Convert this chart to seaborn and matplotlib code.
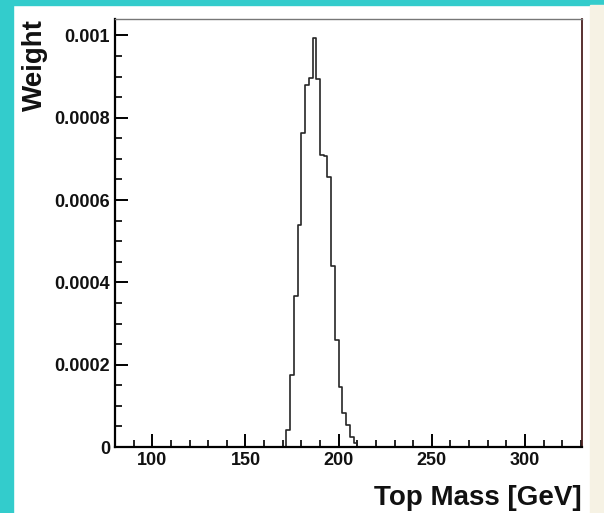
import numpy as np
import pandas as pd
import matplotlib
matplotlib.use("Agg")
import matplotlib.pyplot as plt
from matplotlib.patches import Rectangle
from matplotlib.ticker import FixedLocator, MultipleLocator
import seaborn as sns

# ---- data ----
bin_centers = [173, 175, 177, 179, 181, 183, 185, 187, 189, 191,
               193, 195, 197, 199, 201, 203, 205, 207, 209]
bin_weights = [0.000042, 0.000176, 0.000368, 0.000540, 0.000763, 0.000879,
               0.000897, 0.000994, 0.000893, 0.000710, 0.000708, 0.000655,
               0.000440, 0.000259, 0.000147, 0.000082, 0.000054, 0.000025,
               0.000010]
x_ticks = [100, 150, 200, 250, 300]
x_tick_labels = ["100", "150", "200", "250", "300"]
y_ticks = [0, 0.0002, 0.0004, 0.0006, 0.0008, 0.001]
y_tick_labels = ["0", "0.0002", "0.0004", "0.0006", "0.0008", "0.001"]
x_label = "Top Mass [GeV]"
y_label = "Weight"

df = pd.DataFrame({"mass": bin_centers, "weight": bin_weights})
edges = [float(e) for e in np.arange(80, 332, 2)]

sns.set_style("white")
plt.rcParams["font.family"] = ["Liberation Sans", "DejaVu Sans"]

W, H = 604, 513
fig = plt.figure(figsize=(W / 100, H / 100), dpi=100)
fig.patch.set_facecolor("white")

# frame decorations of the screenshot
fig.patches.append(Rectangle((0, 0), 13 / W, 1, transform=fig.transFigure,
                             color="#33CCCC", zorder=-10))
fig.patches.append(Rectangle((0, 1 - 5 / H), 1, 5 / H, transform=fig.transFigure,
                             color="#33CCCC", zorder=-10))
fig.patches.append(Rectangle((590 / W, 0), 14 / W, 1 - 5 / H, transform=fig.transFigure,
                             color="#F6F2E4", zorder=-10))

ax = fig.add_axes([115 / W, 1 - 447 / H, (582 - 115) / W, (447 - 19) / H])

sns.histplot(data=df, x="mass", weights="weight", bins=edges, element="step",
             fill=False, color="#262626", linewidth=1.2, ax=ax)

ax.set_xlim(80, 330.6)
ax.set_ylim(0, 0.00104)

ax.xaxis.set_major_locator(FixedLocator(x_ticks))
ax.set_xticklabels(x_tick_labels)
ax.xaxis.set_minor_locator(MultipleLocator(10))
ax.yaxis.set_major_locator(FixedLocator(y_ticks))
ax.set_yticklabels(y_tick_labels)
ax.yaxis.set_minor_locator(MultipleLocator(0.00005))

ax.tick_params(axis="both", which="both", direction="in", top=False, right=False,
               bottom=True, left=True, color="black")
ax.tick_params(axis="both", which="major", length=9.5, width=1.4, labelsize=13, pad=3.5)
ax.tick_params(axis="both", which="minor", length=4.8, width=1.2)
for lab in ax.get_xticklabels() + ax.get_yticklabels():
    lab.set_fontweight("bold")
    lab.set_color("#111111")

for s in ["left", "bottom"]:
    ax.spines[s].set_linewidth(1.6)
    ax.spines[s].set_color("black")
ax.spines["top"].set_linewidth(1.0)
ax.spines["top"].set_color("#777777")
ax.spines["right"].set_linewidth(1.3)
ax.spines["right"].set_color("#4a2020")

ax.set_xlabel(x_label, fontsize=20, fontweight="bold", color="#111111")
ax.xaxis.set_label_coords(1.0, -0.088)
ax.xaxis.label.set_horizontalalignment("right")
ax.set_ylabel(y_label, fontsize=20, fontweight="bold", color="#111111")
ax.yaxis.set_label_coords(-0.143, 1.0)
ax.yaxis.label.set_horizontalalignment("right")

fig.savefig("out.png", dpi=100)
